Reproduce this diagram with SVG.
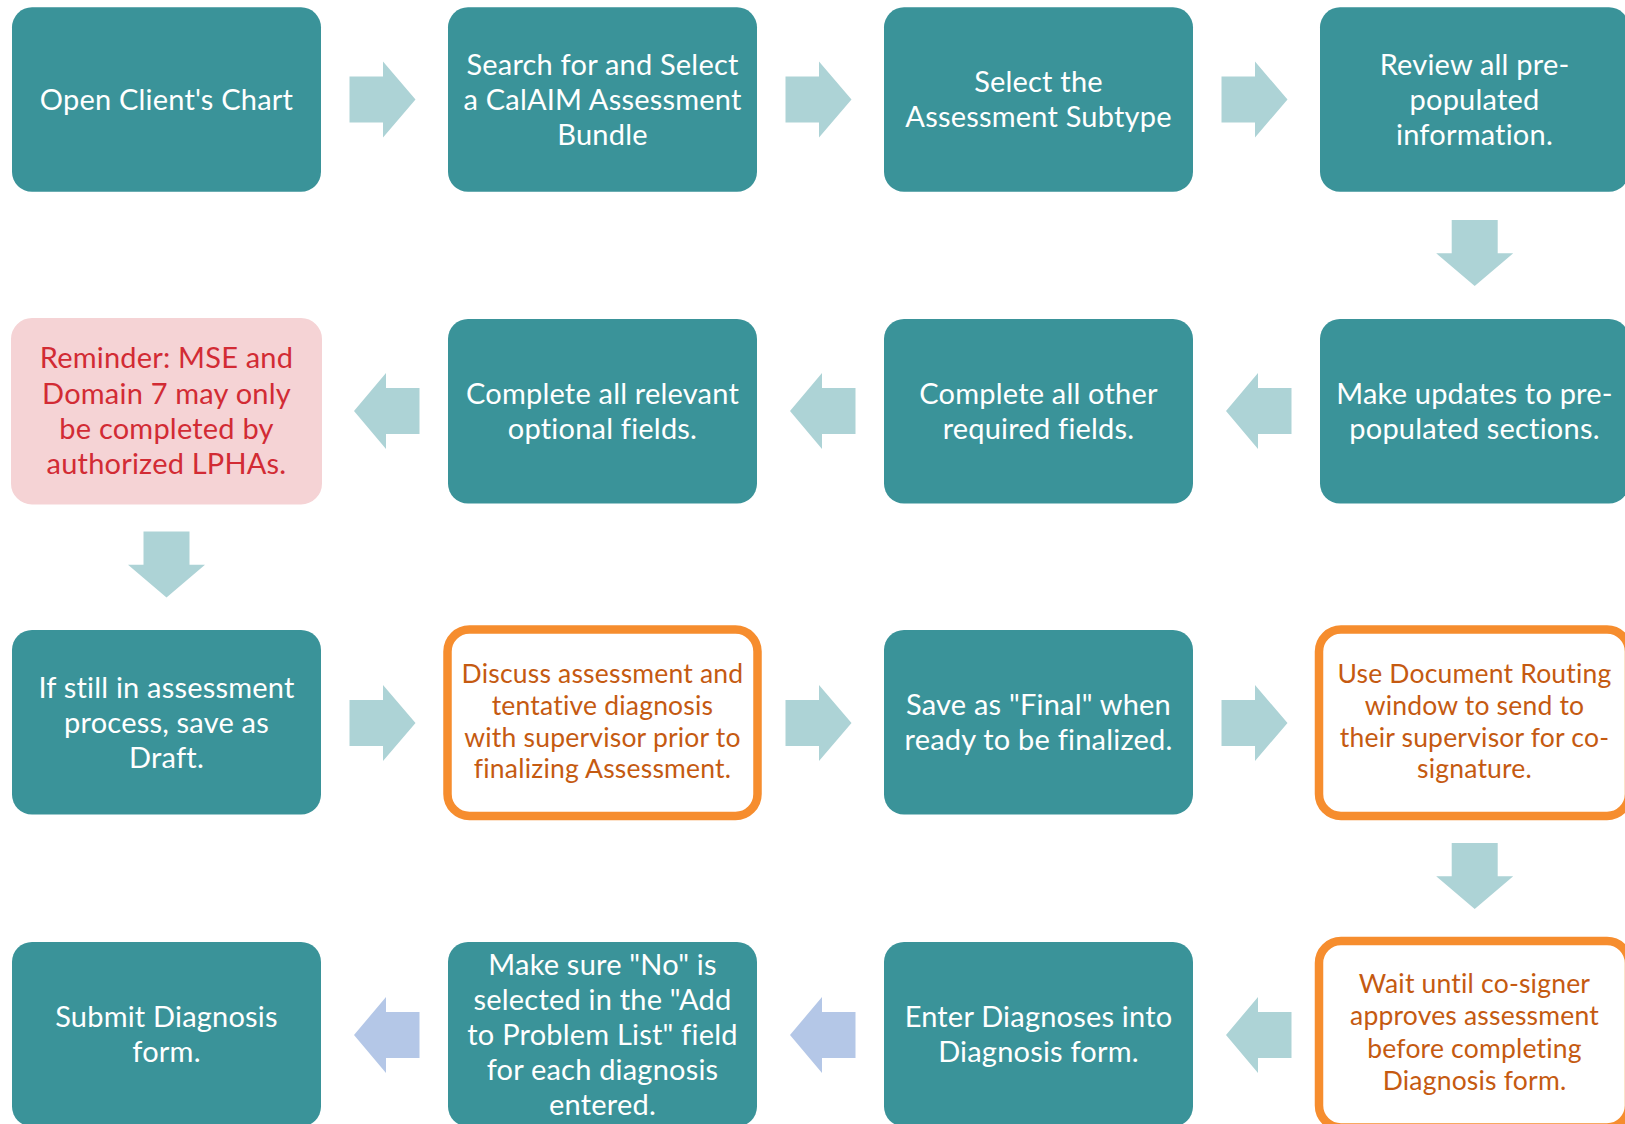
<svg xmlns="http://www.w3.org/2000/svg" xmlns:xlink="http://www.w3.org/1999/xlink" width="1625" height="1124" viewBox="0 0 1625 1124">
<style>
.teal{fill:#3A9399}
.pink{fill:#F5D3D5;stroke:#F5D3D5;stroke-width:2}
.orng{fill:#FFFFFF;stroke:#F68D2E;stroke-width:8.5}
text{font-family:Lato,"Liberation Sans",sans-serif;text-anchor:middle}
.w{fill:#FFFFFF;font-size:29px;letter-spacing:0.2px}
.r{fill:#D22B34;font-size:29px;letter-spacing:0.2px}
.o{fill:#C55A11;font-size:26.5px;letter-spacing:0.2px}
.al{fill:#ADD3D6}
.ab{fill:#B4C7E7}
</style>
<defs>
<path id="ar" d="M0,-23 H33.5 V-38 L66,0 L33.5,38 V23 H0 Z"/>
<path id="al" d="M0,0 L32,-38 V-23 H65.5 V23 H32 V38 Z"/>
<path id="ad" d="M-23,0 H23 V33.3 H38.5 L0,66 L-38.5,33.3 H-23 Z"/>
</defs>
<rect width="1625" height="1124" fill="#FFFFFF"/>

<g id="connectors">
<use xlink:href="#ar" class="al" x="349.5" y="99.5"/>
<use xlink:href="#ar" class="al" x="785.5" y="99.5"/>
<use xlink:href="#ar" class="al" x="1221.5" y="99.5"/>
<use xlink:href="#ad" class="al" x="1474.7" y="220"/>
<use xlink:href="#al" class="al" x="1226" y="411"/>
<use xlink:href="#al" class="al" x="790" y="411"/>
<use xlink:href="#al" class="al" x="354" y="411"/>
<use xlink:href="#ad" class="al" x="166.5" y="531.5"/>
<use xlink:href="#ar" class="al" x="349.5" y="723"/>
<use xlink:href="#ar" class="al" x="785.5" y="723"/>
<use xlink:href="#ar" class="al" x="1221.5" y="723"/>
<use xlink:href="#ad" class="al" x="1474.7" y="843"/>
<use xlink:href="#al" class="al" x="1226" y="1035"/>
<use xlink:href="#al" class="ab" x="790" y="1035"/>
<use xlink:href="#al" class="ab" x="354" y="1035"/>
</g>

<g id="n1"><rect class="teal" x="12" y="7.3" width="309" height="184.5" rx="20"/>
<text class="w" x="166.5" y="109.5">Open Client's Chart</text></g>
<g id="n2"><rect class="teal" x="448" y="7.3" width="309" height="184.5" rx="20"/>
<text class="w" x="602.5" y="74.5">Search for and Select</text>
<text class="w" x="602.5" y="109.5">a CalAIM Assessment</text>
<text class="w" x="602.5" y="144.5">Bundle</text></g>
<g id="n3"><rect class="teal" x="884" y="7.3" width="309" height="184.5" rx="20"/>
<text class="w" x="1038.5" y="92">Select the</text>
<text class="w" x="1038.5" y="127">Assessment Subtype</text></g>
<g id="n4"><rect class="teal" x="1320" y="7.3" width="309" height="184.5" rx="20"/>
<text class="w" x="1474.5" y="74.5">Review all pre-</text>
<text class="w" x="1474.5" y="109.5">populated</text>
<text class="w" x="1474.5" y="144.5">information.</text></g>

<g id="n5"><rect class="teal" x="1320" y="319" width="309" height="184.5" rx="20"/>
<text class="w" x="1474.5" y="403.5">Make updates to pre-</text>
<text class="w" x="1474.5" y="438.5">populated sections.</text></g>
<g id="n6"><rect class="teal" x="884" y="319" width="309" height="184.5" rx="20"/>
<text class="w" x="1038.5" y="403.5">Complete all other</text>
<text class="w" x="1038.5" y="438.5">required fields.</text></g>
<g id="n7"><rect class="teal" x="448" y="319" width="309" height="184.5" rx="20"/>
<text class="w" x="602.5" y="403.5">Complete all relevant</text>
<text class="w" x="602.5" y="438.5">optional fields.</text></g>
<g id="n8"><rect class="pink" x="12" y="319" width="309" height="184.5" rx="20"/>
<text class="r" x="166.5" y="368">Reminder: MSE and</text>
<text class="r" x="166.5" y="403.5">Domain 7 may only</text>
<text class="r" x="166.5" y="438.5">be completed by</text>
<text class="r" x="166.5" y="473.5">authorized LPHAs.</text></g>

<g id="n9"><rect class="teal" x="12" y="630" width="309" height="184.5" rx="20"/>
<text class="w" x="166.5" y="697.5">If still in assessment</text>
<text class="w" x="166.5" y="732.5">process, save as</text>
<text class="w" x="166.5" y="767.5">Draft.</text></g>
<g id="n10"><rect class="orng" x="447.5" y="629.5" width="310" height="186.5" rx="22"/>
<text class="o" x="602.5" y="682.7">Discuss assessment and</text>
<text class="o" x="602.5" y="714.5">tentative diagnosis</text>
<text class="o" x="602.5" y="746.5">with supervisor prior to</text>
<text class="o" x="602.5" y="778">finalizing Assessment.</text></g>
<g id="n11"><rect class="teal" x="884" y="630" width="309" height="184.5" rx="20"/>
<text class="w" x="1038.5" y="715">Save as "Final" when</text>
<text class="w" x="1038.5" y="750">ready to be finalized.</text></g>
<g id="n12"><rect class="orng" x="1319" y="629.5" width="310" height="186.5" rx="22"/>
<text class="o" x="1474.5" y="682.7">Use Document Routing</text>
<text class="o" x="1474.5" y="714.5">window to send to</text>
<text class="o" x="1474.5" y="746.5">their supervisor for co-</text>
<text class="o" x="1474.5" y="778">signature.</text></g>

<g id="n13"><rect class="orng" x="1319" y="941" width="310" height="186.5" rx="22"/>
<text class="o" x="1474.5" y="993.3">Wait until co-signer</text>
<text class="o" x="1474.5" y="1025">approves assessment</text>
<text class="o" x="1474.5" y="1057.7">before completing</text>
<text class="o" x="1474.5" y="1090">Diagnosis form.</text></g>
<g id="n14"><rect class="teal" x="884" y="942" width="309" height="184.5" rx="20"/>
<text class="w" x="1038.5" y="1027">Enter Diagnoses into</text>
<text class="w" x="1038.5" y="1062">Diagnosis form.</text></g>
<g id="n15"><rect class="teal" x="448" y="942" width="309" height="184.5" rx="20"/>
<text class="w" x="602.5" y="974.5">Make sure "No" is</text>
<text class="w" x="602.5" y="1009.5">selected in the "Add</text>
<text class="w" x="602.5" y="1044.5">to Problem List" field</text>
<text class="w" x="602.5" y="1079.5">for each diagnosis</text>
<text class="w" x="602.5" y="1114.5">entered.</text></g>
<g id="n16"><rect class="teal" x="12" y="942" width="309" height="184.5" rx="20"/>
<text class="w" x="166.5" y="1027">Submit Diagnosis</text>
<text class="w" x="166.5" y="1062">form.</text></g>
</svg>
